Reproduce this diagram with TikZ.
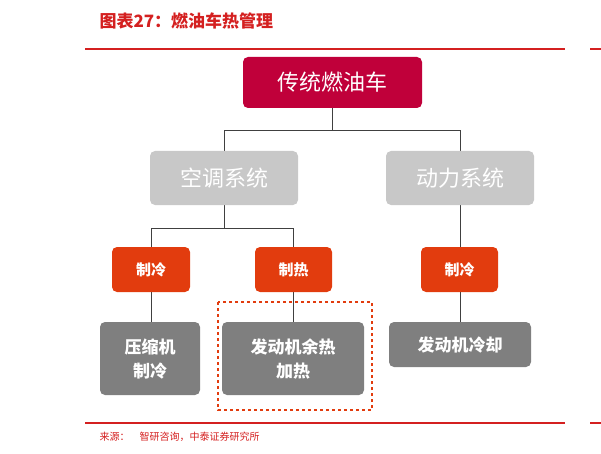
\documentclass[tikz,border=0pt]{standalone}
\usepackage{fontspec}
\newfontfamily\cjk{Noto Sans CJK SC}
\definecolor{crim}{HTML}{C0003A}
\definecolor{lg}{HTML}{C8C8C8}
\definecolor{og}{HTML}{E23C0E}
\definecolor{dg}{HTML}{7F7F7F}
\definecolor{rl}{HTML}{D42020}
\begin{document}
\begin{tikzpicture}[x=1pt,y=-1pt,
  bx/.style={rounded corners=5pt,text=white,font=\cjk,inner sep=0pt,align=center},
  ln/.style={draw=black!75,line width=0.6pt}]
\useasboundingbox (0,0) rectangle (601,454);
\node[font=\cjk\itshape\bfseries\fontsize{17}{20}\selectfont,text=rl,anchor=west] (title) at (96,21) {图表27：燃油车热管理};
\draw[rl,line width=1.2pt] (85,49) -- (565,49) (590,49)--(601,49);
\draw[rl,line width=1.2pt] (85,423) -- (565,423) (590,423)--(601,423);
\node[font=\cjk\fontsize{10}{12}\selectfont,text=rl,anchor=west] (src) at (96,437) {来源：\quad 智研咨询，中泰证券研究所};
% lines
\coordinate (j1) at (332,130);
\draw[ln] (332,108) -- (j1);
\draw[ln] (224,151) -- (224,130) -- (460,130) -- (460,151);
\draw[ln] (224,205) -- (224,228);
\draw[ln] (151,322) -- (151,228) -- (293,228) -- (293,322);
\draw[ln] (460,205) -- (460,322);
\node[bx,fill=crim,minimum width=179pt,minimum height=51pt,font=\cjk\fontsize{22}{26}\selectfont] (top) at (332.5,82.5) {传统燃油车};
\node[bx,fill=lg,minimum width=148pt,minimum height=54pt,font=\cjk\fontsize{22}{26}\selectfont] (ac) at (224,178) {空调系统};
\node[bx,fill=lg,minimum width=148pt,minimum height=54pt,font=\cjk\fontsize{22}{26}\selectfont] (pw) at (460,178) {动力系统};
\node[bx,fill=og,minimum width=78pt,minimum height=45pt,font=\cjk\bfseries\fontsize{15}{18}\selectfont] (c1) at (151,269.5) {制冷};
\node[bx,fill=og,minimum width=77pt,minimum height=45pt,font=\cjk\bfseries\fontsize{15}{18}\selectfont] (h1) at (293.5,269.5) {制热};
\node[bx,fill=og,minimum width=77pt,minimum height=45pt,font=\cjk\bfseries\fontsize{15}{18}\selectfont] (c2) at (459.5,269.5) {制冷};
\node[bx,fill=dg,minimum width=100pt,minimum height=73pt,font=\cjk\bfseries\fontsize{17}{24}\selectfont] (b1) at (150,358.5) {压缩机\\制冷};
\node[bx,fill=dg,minimum width=142pt,minimum height=73pt,font=\cjk\bfseries\fontsize{17}{24}\selectfont] (b2) at (293,358.5) {发动机余热\\加热};
\node[bx,fill=dg,minimum width=142pt,minimum height=45pt,font=\cjk\bfseries\fontsize{17}{24}\selectfont] (b3) at (460,344.5) {发动机冷却};
\draw[og,dashed,line width=1.5pt] (218,302) rectangle (372,410);
\end{tikzpicture}
\end{document}
